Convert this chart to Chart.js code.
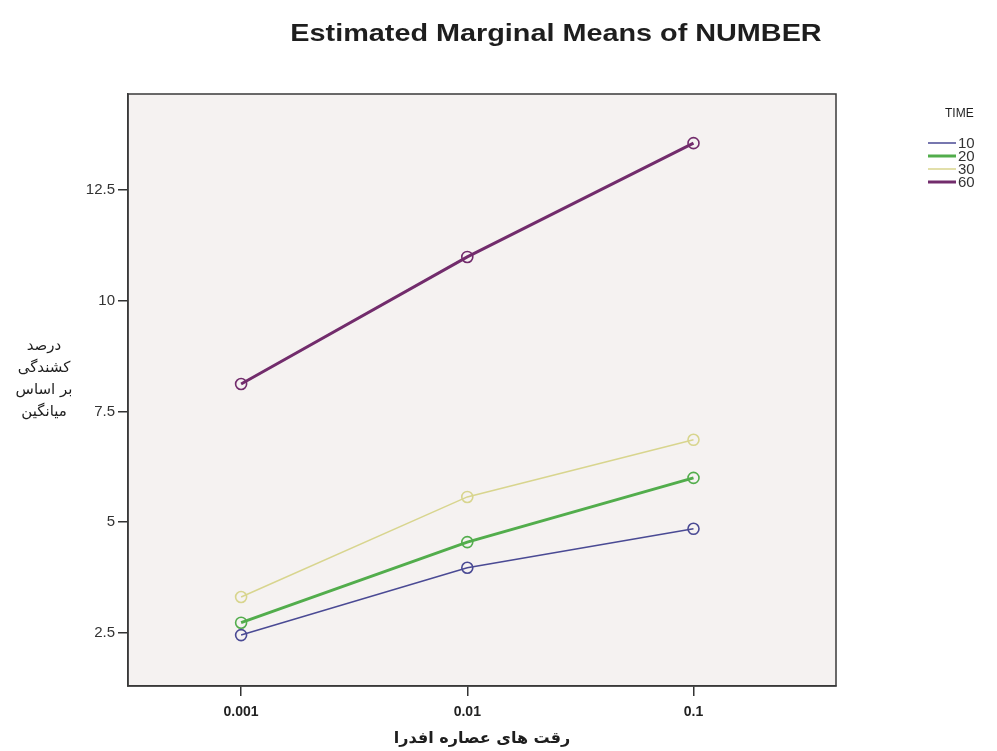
<!DOCTYPE html>
<html>
<head>
<meta charset="utf-8">
<script src="https://cdn.jsdelivr.net/npm/chart.js@4.4.0/dist/chart.umd.min.js"></script>
<style>
html, body { margin: 0; padding: 0; background: #fff; }
#wrap { width: 997px; height: 751px; }
</style>
</head>
<body>
<div id="wrap"><canvas id="meansChart"></canvas></div>
<script>
// data
const concentrations = ['0.001', '0.01', '0.1'];
const timeLabels = ['10', '20', '30', '60'];
const time10 = [2.45, 3.97, 4.85];
const time20 = [2.73, 4.55, 6.0];
const time30 = [3.31, 5.57, 6.86];
const time60 = [8.12, 10.99, 13.56];
const yTicks = [2.5, 5, 7.5, 10, 12.5];

const chartTitle = 'Estimated Marginal Means of NUMBER';
const legendTitle = 'TIME';
const xTitle = 'رقت های عصاره افدرا';
const yTitleLines = ['درصد', 'کشندگی', 'بر اساس', 'میانگین'];

const seriesValues = [time10, time20, time30, time60];
const seriesColors = ['#4a4a94', '#52ad4c', '#d8d58e', '#722c6c'];
const seriesWidths = [1.5, 3, 1.5, 3];

function toPoints(values) {
    return values.map((v, i) => ({ x: i, y: v }));
}

const datasets = seriesValues.map((vals, i) => ({
    label: timeLabels[i],
    data: toPoints(vals),
    borderColor: seriesColors[i],
    borderWidth: seriesWidths[i],
    pointRadius: 5.5,
    pointBorderWidth: 1.6,
    pointBackgroundColor: 'rgba(0,0,0,0)',
    pointBorderColor: seriesColors[i],
    fill: false,
    tension: 0
}));

// plot frame, titles and legend
const decorations = {
    id: 'decorations',
    beforeDraw(chart) {
        const { ctx, chartArea: a } = chart;
        ctx.save();
        ctx.fillStyle = '#ffffff';
        ctx.fillRect(0, 0, chart.width, chart.height);
        ctx.fillStyle = '#f5f2f1';
        ctx.fillRect(a.left, a.top, a.right - a.left, a.bottom - a.top);
        ctx.restore();
    },
    afterDraw(chart) {
        const { ctx, chartArea: a } = chart;
        ctx.save();
        ctx.strokeStyle = '#3a3a3a';
        ctx.lineWidth = 1.5;
        ctx.strokeRect(a.left, a.top, a.right - a.left, a.bottom - a.top);

        ctx.fillStyle = '#1e1e1e';
        ctx.textAlign = 'center';
        ctx.textBaseline = 'middle';
        // title is wider in the original, stretch it a bit
        ctx.save();
        ctx.translate(556, 34);
        ctx.scale(1.2, 1);
        ctx.font = 'bold 24px "Liberation Sans", Arial, sans-serif';
        ctx.fillText(chartTitle, 0, 0);
        ctx.restore();

        ctx.font = 'bold 16px "DejaVu Sans", sans-serif';
        ctx.fillText(xTitle, (a.left + a.right) / 2, 739);

        ctx.font = '15px "DejaVu Sans", sans-serif';
        yTitleLines.forEach((line, i) => {
            ctx.fillText(line, 44, 346 + i * 22);
        });

        // legend
        ctx.font = '12px "Liberation Sans", Arial, sans-serif';
        ctx.textAlign = 'left';
        ctx.fillText(legendTitle, 945, 114);
        ctx.font = '15px "Liberation Sans Narrow", "Liberation Sans", Arial, sans-serif';
        chart.data.datasets.forEach((ds, i) => {
            const y = 143 + i * 13;
            ctx.strokeStyle = ds.borderColor;
            ctx.lineWidth = ds.borderWidth;
            ctx.beginPath();
            ctx.moveTo(928, y);
            ctx.lineTo(956, y);
            ctx.stroke();
            ctx.fillStyle = '#333';
            ctx.fillText(ds.label, 958, y + 1);
        });
        ctx.restore();
    }
};

const ctx = document.getElementById('meansChart').getContext('2d');
const chart = new Chart(ctx, {
    type: 'line',
    data: { datasets: datasets },
    options: {
        responsive: true,
        maintainAspectRatio: false,
        animation: false,
        layout: {
            padding: { left: 70, right: 161, top: 94, bottom: 25 }
        },
        plugins: {
            legend: { display: false },
            title: { display: false },
            tooltip: { enabled: false }
        },
        scales: {
            x: {
                type: 'linear',
                min: -0.5,
                max: 2.63,
                afterFit(scale) { scale.height = 40; },
                afterBuildTicks(scale) {
                    scale.ticks = concentrations.map((c, i) => ({ value: i }));
                },
                ticks: {
                    padding: 8,
                    color: '#222',
                    font: { family: '"Liberation Sans Narrow", "Liberation Sans", Arial, sans-serif', size: 14, weight: 'bold' },
                    callback: (v) => concentrations[v]
                },
                grid: { display: true, drawOnChartArea: false, drawTicks: true, tickLength: 10, color: '#333', lineWidth: 1.5 },
                border: { display: true, color: '#3a3a3a', width: 1.5 }
            },
            y: {
                type: 'linear',
                min: 1.3,
                max: 14.67,
                afterFit(scale) { scale.width = 58; },
                afterBuildTicks(scale) {
                    scale.ticks = yTicks.map(v => ({ value: v }));
                },
                ticks: {
                    padding: 3,
                    color: '#333',
                    font: { family: '"Liberation Sans", Arial, sans-serif', size: 15 },
                    callback: (v) => String(v)
                },
                grid: { display: true, drawOnChartArea: false, drawTicks: true, tickLength: 10, color: '#333', lineWidth: 1.5 },
                border: { display: true, color: '#3a3a3a', width: 1.5 }
            }
        }
    },
    plugins: [decorations]
});
</script>
</body>
</html>
